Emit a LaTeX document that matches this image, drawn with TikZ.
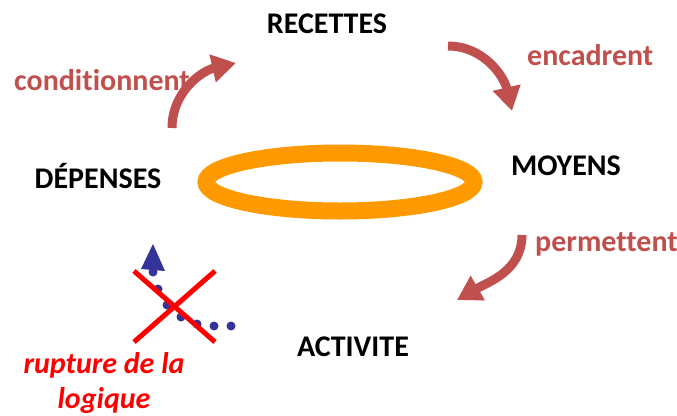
\documentclass[tikz,border=0pt]{standalone}
\usepackage{fontspec}
\setmainfont{Carlito}[Ligatures={NoCommon}]
\usetikzlibrary{arrows.meta}
\definecolor{brick}{HTML}{C0504D}
\definecolor{ring}{HTML}{FF9900}
\definecolor{dotblue}{HTML}{333399}
\definecolor{xred}{HTML}{FF0000}
\tikzset{
  term/.style={font=\fontsize{30}{36}\selectfont\bfseries, text=black, inner sep=0pt},
  verb/.style={font=\fontsize{30}{36}\selectfont\bfseries, text=brick, inner sep=0pt},
  flow/.style={draw=brick, line width=9pt, -{Triangle[length=24pt,width=27pt]}},
  cross/.style={draw=xred, line width=5pt},
  bdot/.style={fill=dotblue, draw=none},
}
\begin{document}
\begin{tikzpicture}[x=1pt,y=-1pt]
\useasboundingbox (0,0) rectangle (677,415);
% terms
\node[term] (rec) at (327,24) {RECETTES};
\node[term] (moy) at (566,166) {MOYENS};
\node[term] (dep) at (98,176) {DÉPENSES};
\node[term] (act) at (353,347) {ACTIVITE};
% verbs
\node[verb, anchor=west] (cond) at (14,80) {conditionnent};
\node[verb, anchor=west] (enc) at (527,55) {encadrent};
\node[verb, anchor=west] (perm) at (535,244) {permettent};
% ring
\draw[ring, line width=17pt] (340,182) ellipse [x radius=134, y radius=29];
% curved arrows
\coordinate (a1s) at (172,128);
\coordinate (a1e) at (236,63);
\coordinate (a2s) at (448,46);
\coordinate (a2e) at (512,111);
\coordinate (a3s) at (522,235);
\coordinate (a3e) at (457,300);
\draw[flow] (a1s) to[out=90, in=193] (a1e);
\draw[flow] (a2s) to[out=0, in=103] (a2e);
\draw[flow] (a3s) to[out=-90, in=30] (a3e);
% broken logic: dotted blue arrow
\foreach \p in {(231,326),(214,326),(197,324),(181,317),(167,305),(158,289),(153,272)}
  \fill[bdot] \p circle (4.5);
\coordinate (bt) at (153,244);
\fill[dotblue] (bt) -- (165,271) -- (141,269) -- cycle;
% red cross
\coordinate (x1) at (134,271);
\coordinate (x2) at (215,342);
\coordinate (x3) at (134,342);
\coordinate (x4) at (215,271);
\draw[cross] (x1) -- (x2);
\draw[cross] (x3) -- (x4);
\node[font=\fontsize{30}{35}\selectfont\bfseries\itshape, text=xred, align=center, inner sep=0pt] (rup) at (104,383) {rupture de la\\logique};
\end{tikzpicture}
\end{document}
